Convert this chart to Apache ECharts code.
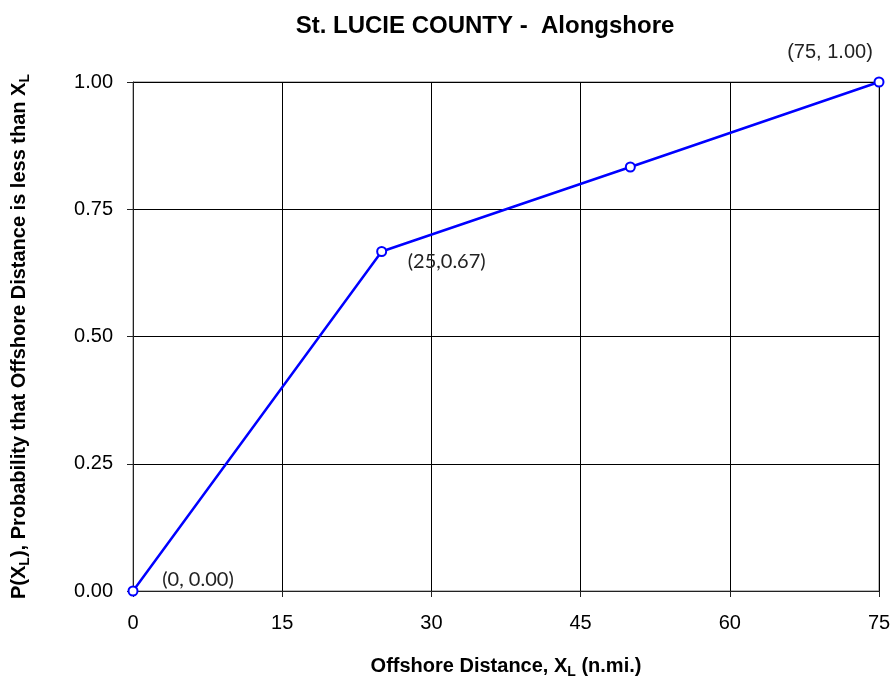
<!DOCTYPE html>
<html>
<head>
<meta charset="utf-8">
<script src="https://cdn.jsdelivr.net/npm/echarts@6/dist/echarts.min.js"></script>
<style>
  html, body { margin: 0; padding: 0; background: #fff; }
  #draw { width: 892px; height: 677px; }
</style>
</head>
<body>
<div id="draw"></div>
<script>
var distances = [0, 25, 50, 75];
var probs = [0, 0.667, 0.833, 1.0];
var pointLabels = ["(0, 0.00)", "(25,0.67)", "", "(75, 1.00)"];
var xTicks = [0, 15, 30, 45, 60, 75];
var yTicks = [0, 0.25, 0.5, 0.75, 1.0];

// label centre offset from its point, and its font
var labelOffsets = [[65, -11], [65, 10], [0, 0], [-49, -30]];
var labelFonts = ["Lato, sans-serif", "Lato, sans-serif", "Lato, sans-serif", "Liberation Sans, Arial, sans-serif"];

var chart = echarts.init(document.getElementById("draw"));

var seriesData = [];
for (var i = 0; i < distances.length; i++) {
  seriesData.push({
    value: [distances[i], probs[i]],
    label: {
      show: pointLabels[i] !== "",
      formatter: pointLabels[i],
      position: "inside",
      offset: labelOffsets[i],
      color: "#222",
      fontSize: 20,
      fontFamily: labelFonts[i]
    }
  });
}

var gridLine = { show: true, lineStyle: { color: "#000", width: 1, type: "solid" } };
var nameRich = {
  b: { fontSize: 20, fontWeight: "bold", color: "#000", fontFamily: "Liberation Sans, Arial, sans-serif" },
  s: { fontSize: 14, fontWeight: "bold", color: "#000", verticalAlign: "bottom", padding: [12, 0, 0, 0], fontFamily: "Liberation Sans, Arial, sans-serif" }
};

var option = {
  animation: false,
  backgroundColor: "#fff",
  title: {
    text: "St. LUCIE COUNTY -  Alongshore",
    left: 480,
    top: 9,
    textAlign: "center",
    textStyle: { fontSize: 24, fontWeight: "bold", color: "#000", fontFamily: "Liberation Sans, Arial, sans-serif" }
  },
  grid: {
    left: 133, right: 13, top: 82, bottom: 86,
    containLabel: false,
    outerBoundsMode: "none",
    show: true, borderColor: "#777", borderWidth: 1
  },
  xAxis: {
    type: "value",
    min: 0,
    max: 75,
    interval: 15,
    name: "{b|Offshore Distance, X}{s|L}{b| (n.mi.)}",
    nameLocation: "middle",
    nameGap: 62,
    nameTextStyle: { rich: nameRich },
    axisLine: { show: true, lineStyle: { color: "#222", width: 1 } },
    axisTick: { show: true, length: 6, lineStyle: { color: "#222" } },
    axisLabel: {
      margin: 22,
      fontSize: 20,
      color: "#000",
      fontFamily: "Liberation Sans, Arial, sans-serif",
      customValues: xTicks
    },
    splitLine: gridLine
  },
  yAxis: {
    type: "value",
    min: 0,
    max: 1,
    interval: 0.25,
    name: "{b|P(X}{s|L}{b|), Probability that Offshore Distance is less than X}{s|L}",
    nameLocation: "middle",
    nameGap: 101,
    nameTextStyle: { rich: nameRich },
    axisLine: { show: true, lineStyle: { color: "#222", width: 1 } },
    axisTick: { show: true, length: 6, lineStyle: { color: "#222" } },
    axisLabel: {
      margin: 20,
      fontSize: 20,
      color: "#000",
      fontFamily: "Liberation Sans, Arial, sans-serif",
      customValues: yTicks,
      formatter: function (v) { return v.toFixed(2); }
    },
    splitLine: gridLine
  },
  series: [{
    type: "line",
    data: seriesData,
    symbol: "emptyCircle",
    symbolSize: 9,
    itemStyle: { color: "#0000ff", borderColor: "#0000ff", borderWidth: 1.5 },
    lineStyle: { color: "#0000ff", width: 2.5 }
  }]
};

chart.setOption(option);
</script>
</body>
</html>
